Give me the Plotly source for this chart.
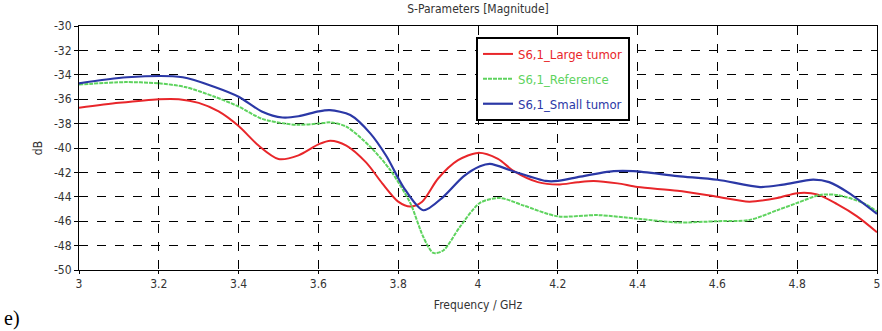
import plotly.graph_objects as go

freq_large = [3.0, 3.1, 3.2, 3.25, 3.3, 3.35, 3.4, 3.45, 3.5, 3.55, 3.6, 3.63, 3.67, 3.72, 3.76, 3.8, 3.83, 3.86, 3.9, 3.95, 4.0, 4.05, 4.09, 4.15, 4.2, 4.25, 4.29, 4.35, 4.4, 4.5, 4.6, 4.68, 4.75, 4.8, 4.85, 4.9, 4.95, 5.0]
large_tumor = [-36.7, -36.3, -36.0, -36.0, -36.3, -37.0, -38.2, -39.8, -40.9, -40.6, -39.7, -39.4, -39.8, -41.2, -42.9, -44.4, -44.8, -44.4, -42.5, -41.0, -40.4, -40.9, -41.9, -42.8, -43.0, -42.8, -42.7, -42.9, -43.2, -43.5, -44.0, -44.4, -44.1, -43.7, -43.8, -44.6, -45.6, -46.9]

freq_ref = [3.0, 3.115, 3.2, 3.266, 3.34, 3.4, 3.458, 3.516, 3.55, 3.6, 3.63, 3.67, 3.73, 3.78, 3.83, 3.863, 3.888, 3.913, 3.955, 4.005, 4.055, 4.113, 4.2, 4.3, 4.4, 4.5, 4.6, 4.68, 4.75, 4.8, 4.857, 4.9, 4.965, 5.0]
reference = [-34.8, -34.6, -34.7, -35.0, -35.8, -36.6, -37.6, -38.0, -38.1, -38.0, -37.9, -38.25, -39.9, -41.8, -44.5, -47.3, -48.6, -48.4, -46.45, -44.5, -44.1, -44.7, -45.6, -45.5, -45.8, -46.1, -46.0, -45.9, -45.1, -44.5, -43.85, -43.85, -44.5, -45.2]

freq_small = [3.0, 3.12, 3.26, 3.34, 3.4, 3.458, 3.51, 3.55, 3.6, 3.629, 3.68, 3.73, 3.771, 3.813, 3.863, 3.913, 3.963, 4.005, 4.03, 4.088, 4.17, 4.2, 4.256, 4.34, 4.39, 4.5, 4.6, 4.707, 4.765, 4.84, 4.88, 4.93, 5.0]
small_tumor = [-34.7, -34.2, -34.2, -35.0, -35.8, -37.0, -37.5, -37.4, -37.0, -36.9, -37.3, -38.8, -40.7, -43.2, -45.1, -44.0, -42.35, -41.5, -41.3, -41.9, -42.7, -42.7, -42.35, -41.9, -41.9, -42.3, -42.6, -43.2, -43.0, -42.6, -42.8, -43.7, -45.4]

x_ticks = [3, 3.2, 3.4, 3.6, 3.8, 4, 4.2, 4.4, 4.6, 4.8, 5]
x_tick_labels = ["3", "3.2", "3.4", "3.6", "3.8", "4", "4.2", "4.4", "4.6", "4.8", "5"]
y_ticks = [-30, -32, -34, -36, -38, -40, -42, -44, -46, -48, -50]
y_tick_labels = ["-30", "-32", "-34", "-36", "-38", "-40", "-42", "-44", "-46", "-48", "-50"]

RED = "#e8262a"
GREEN = "#5ed35e"
BLUE = "#2b38a6"

fig = go.Figure()
fig.add_trace(go.Scatter(x=freq_large, y=large_tumor, mode="lines", legendgroup="a",
                         line=dict(color=RED, width=2, shape="spline", smoothing=0.8),
                         name=f"<span style='color:{RED}'>S6,1_Large tumor</span>"))
fig.add_trace(go.Scatter(x=freq_ref, y=reference, mode="lines", legendgroup="b",
                         line=dict(color=GREEN, width=2, shape="spline", smoothing=0.8, dash="4px,1px"),
                         name=f"<span style='color:{GREEN}'>S6,1_Reference</span>"))
fig.add_trace(go.Scatter(x=freq_small, y=small_tumor, mode="lines", legendgroup="c",
                         line=dict(color=BLUE, width=2.2, shape="spline", smoothing=0.8),
                         name=f"<span style='color:{BLUE}'>S6,1_Small tumor</span>"))

FONT = "DejaVu Sans Condensed, Liberation Sans, sans-serif"
axis_font = dict(family=FONT, size=12, color="#333333")

fig.update_layout(
    width=882, height=331,
    margin=dict(l=79, r=5, t=26, b=61, autoexpand=False),
    paper_bgcolor="white", plot_bgcolor="white",
    title=dict(text="S-Parameters [Magnitude]", x=(79 + 877) / 2 / 882, xanchor="center",
               y=1 - 9 / 331, yanchor="middle", font=dict(size=12, color="#333333", family=FONT)),
    legend=dict(x=0.4975, y=0.955, xanchor="left", yanchor="top",
                bgcolor="white", bordercolor="black", borderwidth=2,
                font=dict(family=FONT, size=13),
                tracegroupgap=5, itemwidth=30),
    showlegend=True,
)
fig.update_xaxes(range=[3, 5], tickvals=x_ticks, ticktext=x_tick_labels,
                 showgrid=True, gridcolor="black", griddash="dash", gridwidth=1,
                 showline=True, linecolor="black", linewidth=1, mirror=True,
                 ticks="outside", ticklen=3, tickcolor="black", zeroline=False,
                 tickfont=axis_font, automargin=False, ticklabeloverflow="allow",
                 title=dict(text="Frequency / GHz", font=axis_font, standoff=10))
fig.update_yaxes(range=[-50, -30], tickvals=y_ticks, ticktext=y_tick_labels,
                 showgrid=True, gridcolor="black", griddash="dash", gridwidth=1,
                 showline=True, linecolor="black", linewidth=1, mirror=True,
                 ticks="outside", ticklen=4, tickcolor="black", zeroline=False,
                 tickfont=axis_font, automargin=False, ticklabeloverflow="allow",
                 title=dict(text="dB", font=axis_font, standoff=8))

fig.add_annotation(text="e)", xref="paper", yref="paper", x=-77 / 798, y=-48 / 244,
                   xanchor="left", yanchor="middle", showarrow=False,
                   font=dict(family="Liberation Serif, Times New Roman, serif", size=20, color="black"))

fig.write_html("out.html", config={"displayModeBar": False},
               post_script="document.body.style.margin='0';document.body.style.overflow='hidden';")
